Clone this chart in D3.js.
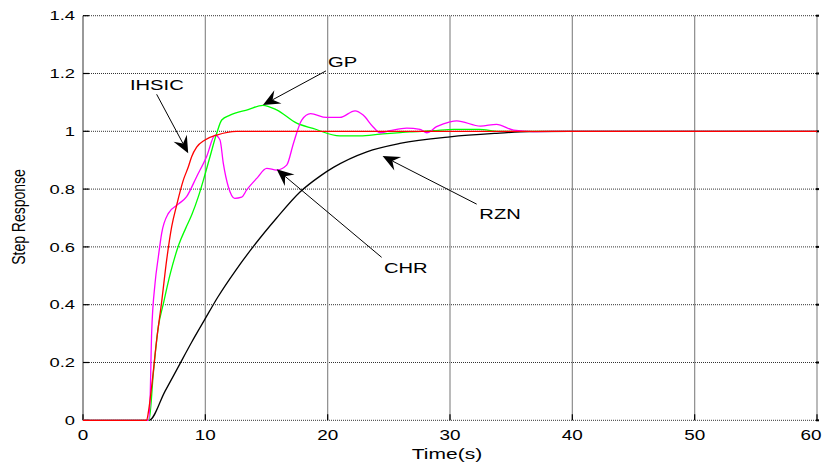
<!DOCTYPE html>
<html>
<head>
<meta charset="utf-8">
<script src="https://cdn.jsdelivr.net/npm/d3@7"></script>
<style>
  body { margin: 0; background: #fff; }
  svg { display: block; }
  text { font-family: Arial, "Liberation Sans", sans-serif; fill: #000; }
</style>
</head>
<body>
<div id="chart"></div>
<script>
// values
var xTicks = [0, 10, 20, 30, 40, 50, 60];
var yTicks = [0, 0.2, 0.4, 0.6, 0.8, 1, 1.2, 1.4];
var yTickLabels = ["0", "0.2", "0.4", "0.6", "0.8", "1", "1.2", "1.4"];

// RZN (black)
var rznT = [0, 5.4, 6.7, 7.79, 8.88, 9.97, 11.0, 12.5, 13.9, 15.83, 17.74, 19.38, 20.47, 23.2, 25.9, 30.0, 33.8, 36.5, 40, 60];
var rznV = [0, 0, 0.1, 0.185, 0.27, 0.35, 0.425, 0.52, 0.60, 0.70, 0.79, 0.845, 0.875, 0.929, 0.958, 0.981, 0.993, 0.999, 1, 1];

// GP (green)
var gpT = [0, 5.4, 5.75, 6.16, 6.55, 7.15, 7.85, 8.4, 8.9, 9.43, 9.84, 10.38, 10.93, 11.34, 12.02, 13.5, 14.7, 15.83, 17.47, 18.8, 21.0, 22.65, 24.3, 26.7, 28.6, 30.3, 32.4, 34, 60];
var gpV = [0, 0, 0.163, 0.324, 0.40, 0.51, 0.61, 0.665, 0.712, 0.774, 0.831, 0.912, 0.993, 1.039, 1.056, 1.075, 1.09, 1.074, 1.028, 1.01, 0.984, 0.984, 0.99, 0.998, 1.002, 1.007, 1.007, 1.0, 1.0];

// CHR (magenta)
var chrT = [0, 5.34, 5.48, 5.61, 5.89, 6.16, 6.43, 6.98, 7.79, 8.47, 9.29, 10.1, 10.8, 11.2, 11.47, 11.88, 12.4, 12.97, 13.38, 14.2, 15.02, 15.83, 16.65, 17.2, 17.88, 18.6, 19.9, 21.0, 22.24, 22.9, 23.7, 24.3, 25.1, 26.46, 27.55, 28.1, 28.9, 30.0, 30.55, 32.5, 33.8, 35.2, 36.8, 40, 60];
var chrV = [0, 0, 0.07, 0.30, 0.474, 0.566, 0.647, 0.716, 0.748, 0.774, 0.843, 0.912, 0.987, 0.97, 0.889, 0.808, 0.768, 0.772, 0.797, 0.837, 0.872, 0.866, 0.883, 0.958, 1.039, 1.061, 1.048, 1.048, 1.071, 1.056, 1.016, 0.995, 1.002, 1.011, 1.007, 0.995, 1.016, 1.033, 1.036, 1.018, 1.024, 1.004, 0.999, 1.0, 1.0];

// IHSIC (red)
var ihsicT = [0, 5.2, 5.35, 5.61, 6.02, 6.43, 6.84, 7.25, 7.66, 8.2, 8.62, 8.88, 9.29, 9.97, 10.93, 12.56, 60];
var ihsicV = [0, 0, 0.03, 0.116, 0.278, 0.41, 0.555, 0.67, 0.745, 0.831, 0.878, 0.912, 0.945, 0.97, 0.987, 1.0, 1.0];

// annotations: label, text anchor (t, v), arrow tail (t, v), arrow tip (t, v)
var noteLabels = ["IHSIC", "GP", "CHR", "RZN"];
var noteText = [[3.84, 1.143], [20.03, 1.2235], [24.6, 0.5087], [32.4, 0.6955]];
var noteTail = [[6.02, 1.128], [19.86, 1.209], [24.41, 0.564], [32.18, 0.748]];
var noteTip  = [[8.6, 0.924], [14.71, 1.091], [15.83, 0.8685], [24.49, 0.9145]];

var width = 826, height = 465;
var svg = d3.select("#chart").append("svg")
    .attr("width", width)
    .attr("height", height);

var x = d3.scaleLinear().domain([0, 60]).range([83, 817]);
var y = d3.scaleLinear().domain([0, 1.4]).range([420.3, 15.7]);

// horizontal dotted grid
svg.append("g").selectAll("line")
    .data(yTicks)
    .enter().append("line")
    .attr("x1", x(0)).attr("x2", x(60))
    .attr("y1", function(d) { return y(d); })
    .attr("y2", function(d) { return y(d); })
    .attr("stroke", "#333")
    .attr("stroke-width", 1)
    .attr("stroke-dasharray", "1,1");

// vertical solid grey grid + axis frame
svg.append("g").selectAll("line")
    .data(xTicks)
    .enter().append("line")
    .attr("x1", function(d) { return x(d); })
    .attr("x2", function(d) { return x(d); })
    .attr("y1", y(1.4)).attr("y2", y(0))
    .attr("stroke", function(d) { return d === 0 ? "#777" : "#8c8c8c"; })
    .attr("stroke-width", function(d) { return d === 0 ? 1.5 : 1.2; });

// ticks
var ticks = svg.append("g").attr("stroke", "#000").attr("stroke-width", 1.2);
yTicks.forEach(function(d) {
  ticks.append("line").attr("x1", x(0)).attr("x2", x(0) + 6)
      .attr("y1", y(d)).attr("y2", y(d));
  ticks.append("line").attr("x1", x(60) - 1).attr("x2", x(60) + 2)
      .attr("y1", y(d)).attr("y2", y(d)).attr("stroke-width", 2);
});
xTicks.forEach(function(d) {
  ticks.append("line").attr("x1", x(d)).attr("x2", x(d))
      .attr("y1", y(0)).attr("y2", y(0) - 6);
});

// tick labels (source image is stretched horizontally)
svg.append("g").selectAll("text")
    .data(yTicks)
    .enter().append("text")
    .attr("transform", function(d) { return "translate(75," + (y(d) + 4.7) + ") scale(1.36,1)"; })
    .attr("text-anchor", "end")
    .style("font-size", "13.5px")
    .text(function(d, i) { return yTickLabels[i]; });

svg.append("g").selectAll("text")
    .data(xTicks)
    .enter().append("text")
    .attr("transform", function(d) {
      // the last label sits against the right edge, as in the source
      var cx = d === 60 ? x(d) - 6 : x(d);
      return "translate(" + cx + ",439.5) scale(1.35,1)";
    })
    .attr("text-anchor", "middle")
    .style("font-size", "14px")
    .text(function(d) { return d; });

// axis titles
svg.append("text")
    .attr("transform", "translate(447,459) scale(1.45,1)")
    .attr("text-anchor", "middle")
    .style("font-size", "14.5px")
    .text("Time(s)");

svg.append("text")
    .attr("transform", "translate(25,217) scale(1.3,1) rotate(-90)")
    .attr("text-anchor", "middle")
    .style("font-size", "14px")
    .text("Step Response");

// curves
var line = d3.line()
    .x(function(d) { return x(d[0]); })
    .y(function(d) { return y(d[1]); })
    .curve(d3.curveMonotoneX);

var series = [
  { t: rznT, v: rznV, color: "#000000" },
  { t: gpT, v: gpV, color: "#00ff00" },
  { t: chrT, v: chrV, color: "#ff00ff" },
  { t: ihsicT, v: ihsicV, color: "#ff0000" }
];

series.forEach(function(s) {
  svg.append("path")
      .datum(d3.zip(s.t, s.v))
      .attr("d", line)
      .attr("fill", "none")
      .attr("stroke", s.color)
      .attr("stroke-width", 1.3);
});

// annotation arrows
noteLabels.forEach(function(label, i) {
  var x0 = x(noteTail[i][0]), y0 = y(noteTail[i][1]);
  var x1 = x(noteTip[i][0]), y1 = y(noteTip[i][1]);
  var dx = x1 - x0, dy = y1 - y0;
  var len = Math.sqrt(dx * dx + dy * dy);
  var ux = dx / len, uy = dy / len;
  var px = -uy, py = ux;
  var L = 17, W = 7.5, N = 11;
  svg.append("line")
      .attr("x1", x0).attr("y1", y0)
      .attr("x2", x1 - ux * N).attr("y2", y1 - uy * N)
      .attr("stroke", "#000").attr("stroke-width", 1);
  var head = [
    [x1, y1],
    [x1 - ux * L + px * W, y1 - uy * L + py * W],
    [x1 - ux * N, y1 - uy * N],
    [x1 - ux * L - px * W, y1 - uy * L - py * W]
  ];
  svg.append("polygon")
      .attr("points", head.map(function(p) { return p.join(","); }).join(" "))
      .attr("fill", "#000");
  svg.append("text")
      .attr("transform", "translate(" + x(noteText[i][0]) + "," + y(noteText[i][1]) + ") scale(1.3,1)")
      .style("font-size", "15.5px")
      .text(label);
});
</script>
</body>
</html>
